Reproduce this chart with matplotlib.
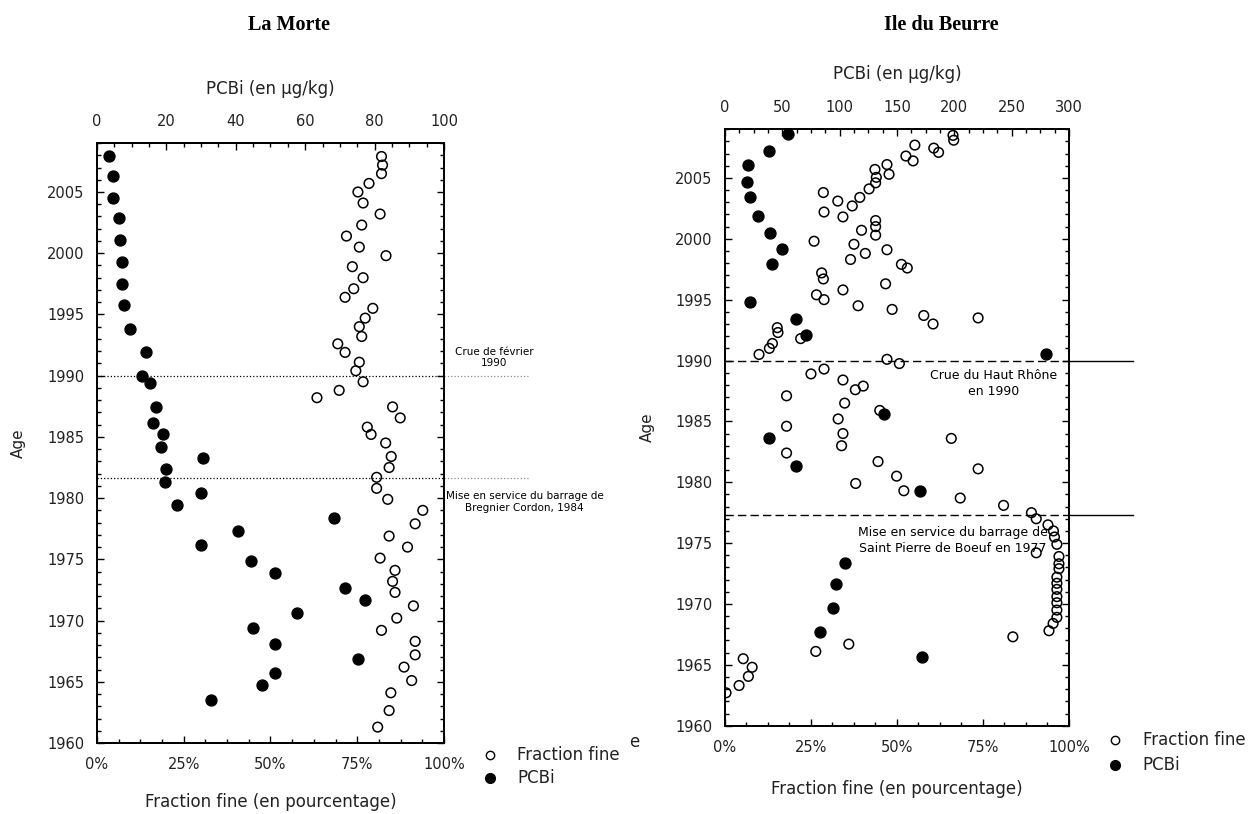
import matplotlib
matplotlib.use("Agg")
import matplotlib.pyplot as plt
from matplotlib.ticker import MultipleLocator, FuncFormatter

# La Morte : fraction fine (%) et PCBi (µg/kg) selon l'âge
lm_fine_year = [2007.9, 2007.2, 2006.5, 2005.7, 2005.0, 2004.1, 2003.2, 2002.3, 2001.4, 2000.5,
                1999.8, 1998.9, 1998.0, 1997.1, 1996.4, 1995.5, 1994.7, 1994.0, 1993.2, 1992.6,
                1991.9, 1991.1, 1990.4, 1989.5, 1988.8, 1988.2, 1987.45, 1986.55, 1985.8, 1985.2,
                1984.5, 1983.4, 1982.5, 1981.7, 1980.8, 1979.9, 1979.0, 1977.9, 1976.9, 1976.0,
                1975.1, 1974.1, 1973.2, 1972.3, 1971.2, 1970.2, 1969.2, 1968.3, 1967.2, 1966.2,
                1965.1, 1964.1, 1962.65, 1961.3]
lm_fine_pct = [82.0, 82.3, 82.0, 78.4, 75.2, 76.7, 81.6, 76.3, 71.9, 75.6,
               83.3, 73.6, 76.7, 74.0, 71.5, 79.5, 77.3, 75.6, 76.3, 69.4,
               71.5, 75.6, 74.6, 76.7, 69.8, 63.4, 85.2, 87.4, 77.9, 79.0,
               83.2, 84.8, 84.2, 80.6, 80.6, 83.8, 93.9, 91.7, 84.2, 89.5,
               81.6, 85.9, 85.2, 85.9, 91.2, 86.4, 82.0, 91.7, 91.7, 88.5,
               90.7, 84.7, 84.2, 80.9]
lm_pcb_year = [2007.9, 2006.3, 2004.5, 2002.9, 2001.1, 1999.3, 1997.5, 1995.75, 1993.8, 1991.9,
               1990.0, 1989.4, 1987.45, 1986.1, 1985.2, 1984.2, 1983.3, 1982.4, 1981.3, 1980.4,
               1979.4, 1978.4, 1977.3, 1976.2, 1974.9, 1973.9, 1972.7, 1971.7, 1970.6, 1969.4,
               1968.1, 1966.9, 1965.7, 1964.7, 1963.5]
lm_pcb_val = [3.5, 4.5, 4.5, 6.2, 6.6, 7.1, 7.2, 7.8, 9.4, 14.1,
              13.0, 15.2, 16.9, 16.2, 19.0, 18.4, 30.6, 20.0, 19.5, 30.0,
              23.2, 68.3, 40.7, 30.0, 44.3, 51.3, 71.5, 77.2, 57.7, 44.9,
              51.3, 75.2, 51.3, 47.5, 32.8]

# Ile du Beurre
ib_fine_year = [2008.5, 2008.1, 2007.7, 2007.45, 2007.1, 2006.8, 2006.4, 2006.1, 2005.3, 2005.7,
                2005.05, 2004.6, 2004.1, 2003.4, 2002.7, 2003.1, 2003.8, 2002.2, 2001.8, 2001.5,
                2001.0, 2000.3, 2000.7, 1999.8, 1999.55, 1998.8, 1999.1, 1998.3, 1997.9, 1997.6,
                1997.2, 1996.7, 1996.3, 1995.8, 1995.4, 1995.0, 1994.5, 1994.2, 1993.7, 1993.0,
                1993.5, 1992.7, 1992.3, 1991.8, 1991.4, 1991.0, 1990.5, 1990.1, 1989.75, 1989.3,
                1988.9, 1988.4, 1987.9, 1987.6, 1987.1, 1986.5, 1985.9, 1985.2, 1984.6, 1984.0,
                1983.0, 1983.6, 1982.4, 1981.7, 1981.1, 1980.5, 1979.9, 1979.3, 1978.7, 1978.1,
                1977.5, 1977.0, 1976.5, 1976.0, 1975.5, 1974.9, 1974.2, 1973.9, 1973.3, 1972.9,
                1972.2, 1971.7, 1971.2, 1970.6, 1970.1, 1969.5, 1968.9, 1968.4, 1967.8, 1967.3,
                1966.7, 1966.1, 1965.5, 1964.8, 1964.05, 1963.3, 1962.7]
ib_fine_pct = [66.3, 66.5, 55.2, 60.7, 62.1, 52.6, 54.7, 47.1, 47.7, 43.6,
               44.0, 43.8, 41.9, 39.2, 37.0, 32.8, 28.6, 28.8, 34.3, 43.8,
               43.8, 43.8, 39.7, 25.9, 37.5, 40.8, 47.1, 36.5, 51.3, 53.0,
               28.1, 28.6, 46.7, 34.3, 26.6, 28.8, 38.7, 48.6, 57.8, 60.5,
               73.6, 15.2, 15.4, 22.0, 13.8, 12.9, 9.9, 47.1, 50.7, 28.8,
               25.0, 34.3, 40.2, 37.9, 17.9, 34.8, 45.0, 32.9, 17.9, 34.3,
               33.9, 65.8, 17.9, 44.5, 73.6, 49.9, 38.0, 52.0, 68.4, 81.0,
               89.1, 90.5, 93.9, 95.5, 95.8, 96.5, 90.5, 97.1, 97.1, 97.1,
               96.5, 96.5, 96.5, 96.5, 96.5, 96.5, 96.5, 95.4, 94.2, 83.7,
               36.0, 26.4, 5.3, 7.9, 6.8, 4.1, 0.3]
ib_pcb_year = [2008.6, 2007.2, 2006.1, 2004.7, 2003.4, 2001.9, 2000.5, 1999.2, 1997.9, 1994.8,
               1993.4, 1992.1, 1990.5, 1985.6, 1983.6, 1981.3, 1979.3, 1973.4, 1971.6, 1969.7,
               1967.7, 1965.65]
ib_pcb_val = [55, 38, 20, 19, 22, 28.5, 39, 50, 41, 22,
              62, 71, 280, 138.5, 38, 62, 170, 105, 97, 94,
              83, 172]

TXT = "#222222"
NARROW = ["Liberation Sans Narrow", "DejaVu Sans"]
plt.rcParams["font.family"] = ["DejaVu Sans"]

fig = plt.figure(figsize=(12.58, 8.14), dpi=100)
axL = fig.add_axes([0.0771, 0.0872, 0.2758, 0.7371])
axR = fig.add_axes([0.5763, 0.1085, 0.2734, 0.7327])


def setup(ax, pcb_max, pcb_major, fine_year, fine_pct, pcb_year, pcb_val):
    ax.set_xlim(0, 100)
    ax.set_ylim(1960, 2009)
    ax.xaxis.set_major_locator(MultipleLocator(25))
    ax.xaxis.set_minor_locator(MultipleLocator(6.25))
    ax.xaxis.set_major_formatter(FuncFormatter(lambda v, p: "%d%%" % v))
    ax.yaxis.set_major_locator(MultipleLocator(5))
    ax.yaxis.set_minor_locator(MultipleLocator(1))
    ax.tick_params(which="both", direction="in", right=True, top=False, colors="k",
                   labelcolor=TXT, labelsize=10.5, width=1)
    ax.tick_params(which="major", length=5)
    ax.tick_params(which="minor", length=3)
    ax.tick_params(axis="x", pad=10)
    ax.tick_params(axis="y", pad=9)
    for s in ax.spines.values():
        s.set_linewidth(1.3)
    ax.scatter(fine_pct, fine_year, s=48, facecolors="none", edgecolors="k",
               linewidths=1.1, zorder=3)

    ax2 = ax.twiny()
    ax2.set_xlim(0, pcb_max)
    ax2.set_ylim(1960, 2009)
    ax2.xaxis.set_major_locator(MultipleLocator(pcb_major))
    ax2.xaxis.set_minor_locator(MultipleLocator(pcb_major / 4))
    ax2.tick_params(which="both", direction="in", colors="k", labelcolor=TXT,
                    labelsize=10.5, width=1, pad=10)
    ax2.tick_params(which="major", length=5)
    ax2.tick_params(which="minor", length=3)
    for s in ax2.spines.values():
        s.set_linewidth(1.3)
    ax2.scatter(pcb_val, pcb_year, s=62, color="k", zorder=4)
    ax2.set_xlabel("PCBi (en µg/kg)", fontsize=12, color=TXT)
    ax.set_xlabel("Fraction fine (en pourcentage)", fontsize=12, color=TXT)
    ax.set_ylabel("Age", fontsize=11, color=TXT)
    return ax2


axL2 = setup(axL, 100, 20, lm_fine_year, lm_fine_pct, lm_pcb_year, lm_pcb_val)
axR2 = setup(axR, 300, 50, ib_fine_year, ib_fine_pct, ib_pcb_year, ib_pcb_val)
axL2.xaxis.set_label_coords(0.5, 1.082)
axR2.xaxis.set_label_coords(0.5, 1.084)
axL.xaxis.set_label_coords(0.5, -0.083)
axR.xaxis.set_label_coords(0.5, -0.091)
axL.yaxis.set_label_coords(-0.205, 0.5)
axR.yaxis.set_label_coords(-0.203, 0.5)

# repères La Morte
for yr in [1990.0, 1981.65]:
    axL.axhline(yr, ls=":", color="k", lw=0.9, zorder=1)
    axL.plot([1.0, 1.242], [yr, yr], transform=axL.get_yaxis_transform(),
             ls=":", color="0.55", lw=0.9, clip_on=False)
axL.text(1.144, 1990.6, "Crue de février\n1990", transform=axL.get_yaxis_transform(),
         ha="center", va="bottom", fontsize=7.5, family=NARROW, linespacing=1.2)
axL.text(1.233, 1979.7, "Mise en service du barrage de\nBregnier Cordon, 1984",
         transform=axL.get_yaxis_transform(), ha="center", va="center", fontsize=7.5,
         family=NARROW, linespacing=1.3)

# repères Ile du Beurre
for yr in [1990.0, 1977.27]:
    axR.axhline(yr, ls=(0, (6, 3)), color="k", lw=1.0, zorder=1)
    axR.plot([1.0, 1.186], [yr, yr], transform=axR.get_yaxis_transform(),
             color="k", lw=1.0, clip_on=False)
axR.text(0.78, 1988.1, "Crue du Haut Rhône\nen 1990", transform=axR.get_yaxis_transform(),
         ha="center", va="center", fontsize=9, family=NARROW, linespacing=1.3)
axR.text(0.663, 1975.2, "Mise en service du barrage de\nSaint Pierre de Boeuf en 1977",
         transform=axR.get_yaxis_transform(), ha="center", va="center", fontsize=9,
         family=NARROW, linespacing=1.3)

# légendes
for ax, mx, tx, y1, y2 in [(axL, 1.1326, 1.2104, -0.02, -0.058),
                           (axR, 1.1337, 1.215, -0.024, -0.066)]:
    ax.plot([mx], [y1], "o", ms=6, mfc="none", mec="k", mew=1.0,
            transform=ax.transAxes, clip_on=False)
    ax.plot([mx], [y2], "o", ms=7, color="k", transform=ax.transAxes, clip_on=False)
    ax.text(tx, y1, "Fraction fine", transform=ax.transAxes, va="center", fontsize=12, color=TXT)
    ax.text(tx, y2, "PCBi", transform=ax.transAxes, va="center", fontsize=12, color=TXT)
fig.text(634 / 1258, 1 - 742 / 814, "e", fontsize=12, color=TXT, ha="center", va="center")

fig.text(289 / 1258, 1 - 25 / 814, "La Morte", fontsize=14.5, fontweight="bold",
         family="Liberation Serif", ha="center", va="center")
fig.text(941 / 1258, 1 - 25 / 814, "Ile du Beurre", fontsize=14.5, fontweight="bold",
         family="Liberation Serif", ha="center", va="center")

fig.savefig("out.png", dpi=100)
